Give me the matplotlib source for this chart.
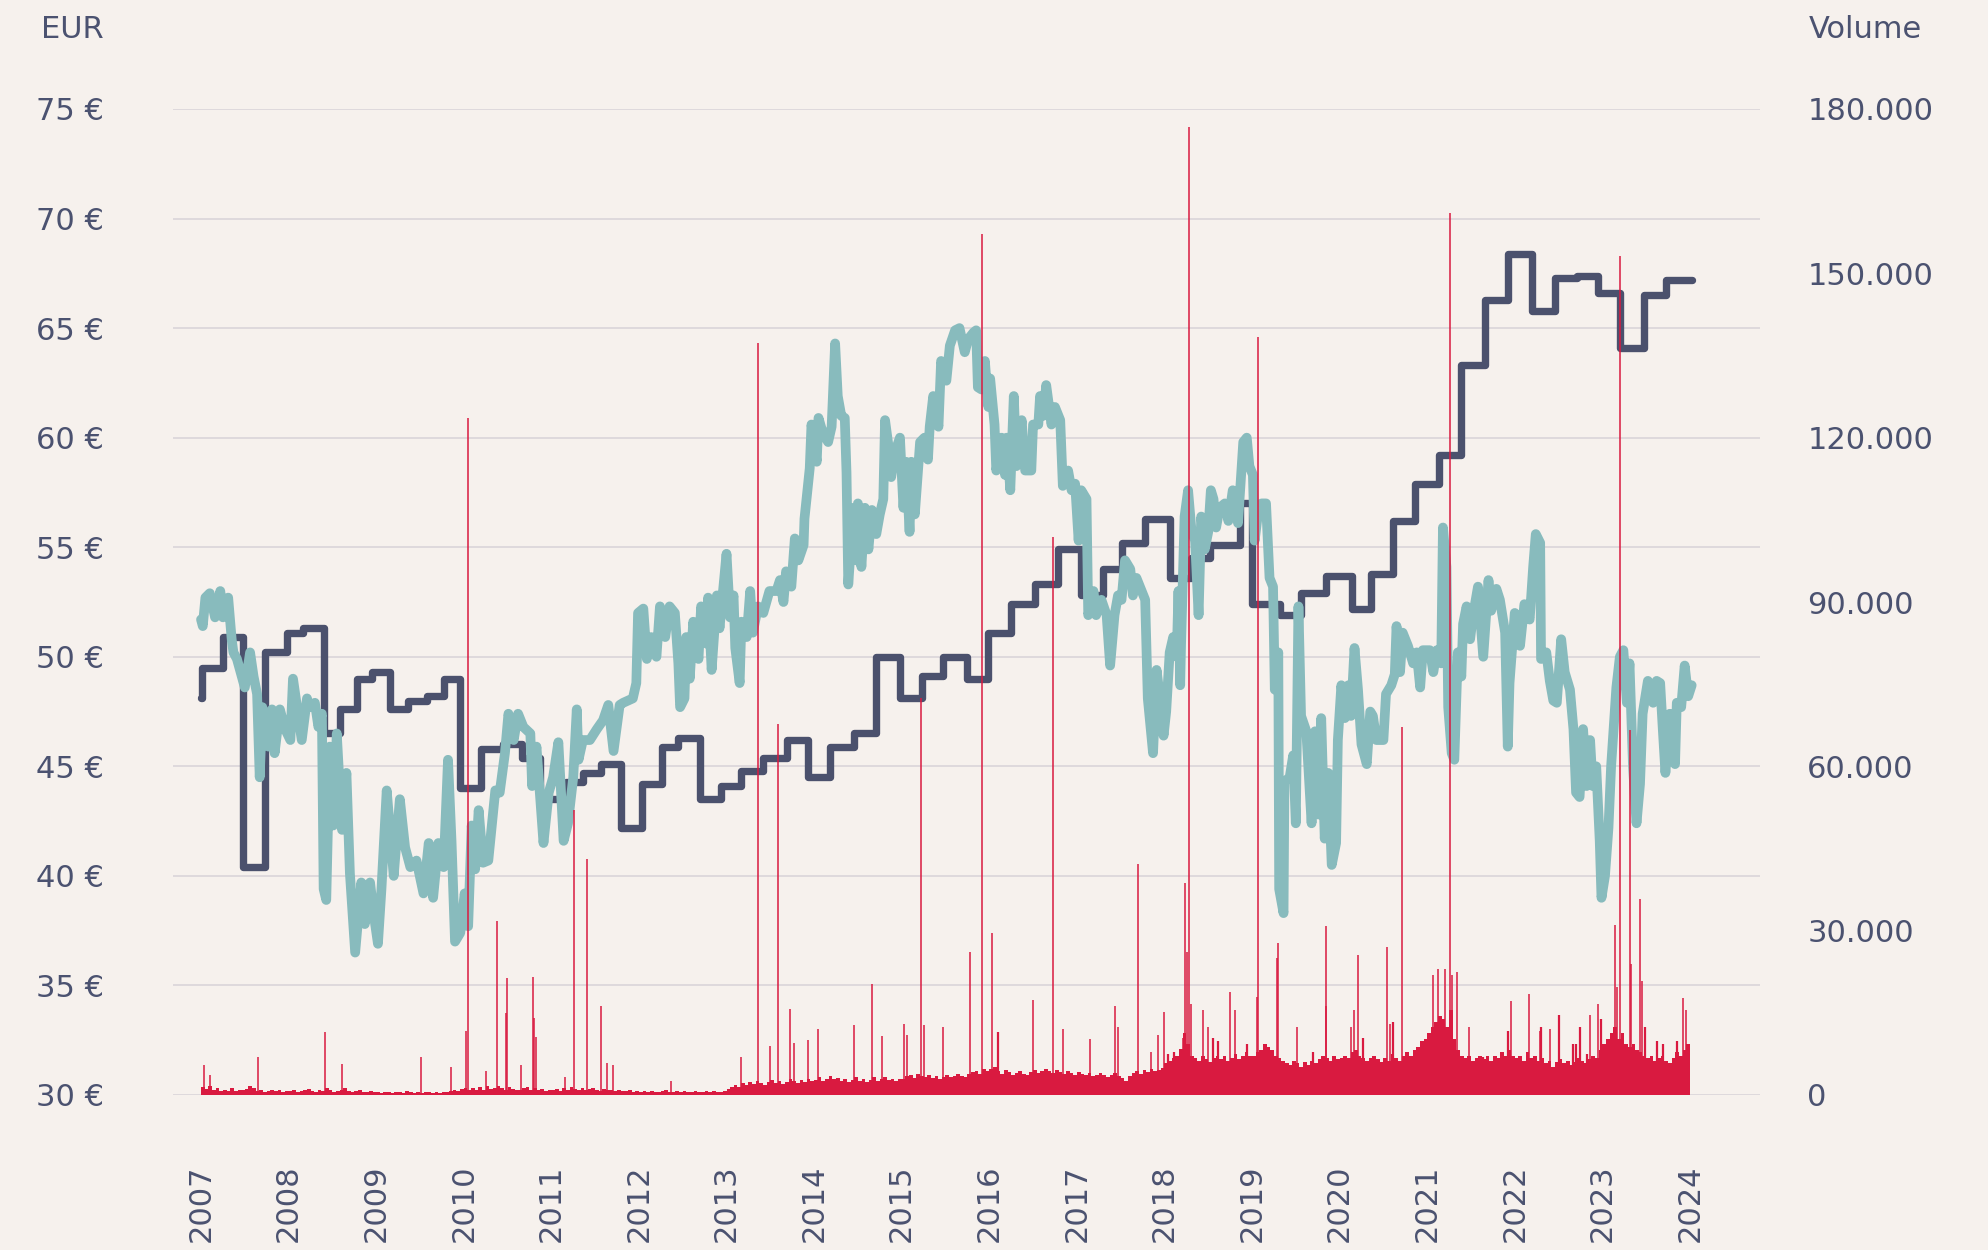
import numpy as np
import matplotlib.pyplot as plt

# Share price (EUR), decimal year -> close
price_t = [
    2007.00, 2007.02, 2007.05, 2007.10, 2007.16, 2007.22, 2007.25, 2007.31, 2007.35, 2007.37,
    2007.41, 2007.50, 2007.56, 2007.60, 2007.64, 2007.67, 2007.70, 2007.77, 2007.81, 2007.84,
    2007.90, 2007.96, 2008.02, 2008.05, 2008.11, 2008.15, 2008.21, 2008.24, 2008.30, 2008.34,
    2008.38, 2008.40, 2008.43, 2008.47, 2008.51, 2008.55, 2008.61, 2008.66, 2008.70, 2008.76,
    2008.80, 2008.83, 2008.87, 2008.93, 2008.97, 2009.02, 2009.06, 2009.12, 2009.16, 2009.20,
    2009.27, 2009.33, 2009.39, 2009.46, 2009.54, 2009.60, 2009.65, 2009.71, 2009.77, 2009.82,
    2009.86, 2009.90, 2009.96, 2010.01, 2010.05, 2010.09, 2010.13, 2010.17, 2010.22, 2010.28,
    2010.32, 2010.36, 2010.41, 2010.47, 2010.51, 2010.57, 2010.62, 2010.68, 2010.76, 2010.78,
    2010.83, 2010.91, 2010.97, 2011.02, 2011.08, 2011.14, 2011.19, 2011.25, 2011.29, 2011.31,
    2011.36, 2011.44, 2011.52, 2011.59, 2011.65, 2011.71, 2011.78, 2011.82, 2011.93, 2011.97,
    2011.99, 2012.05, 2012.09, 2012.14, 2012.20, 2012.24, 2012.30, 2012.35, 2012.41, 2012.45,
    2012.47, 2012.52, 2012.54, 2012.58, 2012.62, 2012.68, 2012.71, 2012.77, 2012.79, 2012.83,
    2012.89, 2012.92, 2012.96, 2013.00, 2013.04, 2013.08, 2013.10, 2013.15, 2013.17, 2013.23,
    2013.27, 2013.30, 2013.36, 2013.42, 2013.49, 2013.57, 2013.61, 2013.65, 2013.68, 2013.74,
    2013.78, 2013.82, 2013.88, 2013.89, 2013.95, 2013.97, 2014.03, 2014.05, 2014.10, 2014.16,
    2014.20, 2014.24, 2014.27, 2014.31, 2014.35, 2014.37, 2014.39, 2014.45, 2014.48, 2014.50,
    2014.54, 2014.58, 2014.62, 2014.66, 2014.71, 2014.75, 2014.79, 2014.81, 2014.85, 2014.88,
    2014.92, 2014.98, 2015.02, 2015.05, 2015.09, 2015.11, 2015.15, 2015.21, 2015.26, 2015.30,
    2015.32, 2015.36, 2015.42, 2015.45, 2015.51, 2015.55, 2015.61, 2015.66, 2015.72, 2015.76,
    2015.82, 2015.85, 2015.87, 2015.91, 2015.95, 2015.99, 2016.01, 2016.06, 2016.08, 2016.14,
    2016.18, 2016.20, 2016.24, 2016.28, 2016.31, 2016.37, 2016.41, 2016.48, 2016.50, 2016.56,
    2016.58, 2016.62, 2016.65, 2016.71, 2016.75, 2016.81, 2016.84, 2016.90, 2016.94, 2016.98,
    2017.02, 2017.05, 2017.11, 2017.13, 2017.19, 2017.22, 2017.28, 2017.34, 2017.38, 2017.43,
    2017.47, 2017.51, 2017.55, 2017.61, 2017.64, 2017.68, 2017.74, 2017.78, 2017.81, 2017.87,
    2017.91, 2017.95, 2017.99, 2018.02, 2018.06, 2018.10, 2018.14, 2018.16, 2018.18, 2018.19,
    2018.23, 2018.27, 2018.31, 2018.35, 2018.39, 2018.42, 2018.46, 2018.50, 2018.53, 2018.56,
    2018.59, 2018.63, 2018.69, 2018.73, 2018.78, 2018.84, 2018.90, 2018.94, 2018.97, 2019.01,
    2019.03, 2019.07, 2019.11, 2019.16, 2019.20, 2019.24, 2019.26, 2019.30, 2019.31, 2019.36,
    2019.37, 2019.43, 2019.47, 2019.50, 2019.53, 2019.56, 2019.62, 2019.68, 2019.72, 2019.76,
    2019.79, 2019.83, 2019.87, 2019.91, 2019.96, 2019.98, 2020.02, 2020.06, 2020.10, 2020.13,
    2020.17, 2020.21, 2020.25, 2020.31, 2020.35, 2020.38, 2020.42, 2020.50, 2020.53, 2020.59,
    2020.63, 2020.65, 2020.69, 2020.72, 2020.78, 2020.84, 2020.88, 2020.92, 2020.95, 2021.03,
    2021.07, 2021.11, 2021.16, 2021.18, 2021.22, 2021.24, 2021.28, 2021.31, 2021.35, 2021.39,
    2021.41, 2021.45, 2021.49, 2021.52, 2021.58, 2021.64, 2021.70, 2021.73, 2021.79, 2021.83,
    2021.89, 2021.92, 2021.94, 2022.00, 2022.06, 2022.11, 2022.17, 2022.21, 2022.24, 2022.29,
    2022.30, 2022.36, 2022.40, 2022.44, 2022.48, 2022.53, 2022.57, 2022.63, 2022.67, 2022.70,
    2022.74, 2022.78, 2022.82, 2022.86, 2022.89, 2022.93, 2022.97, 2022.99, 2023.03, 2023.07,
    2023.10, 2023.12, 2023.16, 2023.20, 2023.24, 2023.28, 2023.31, 2023.35, 2023.39, 2023.43,
    2023.46, 2023.52, 2023.58, 2023.62, 2023.66, 2023.69, 2023.72, 2023.77, 2023.83, 2023.85,
    2023.90, 2023.94, 2023.98, 2024.02,
]
price_v = [
    51.7, 51.4, 52.7, 52.9, 51.8, 53.0, 51.8, 52.7, 50.8, 50.2,
    49.9, 48.6, 50.2, 49.1, 48.3, 44.5, 47.7, 45.9, 47.6, 45.6,
    47.6, 46.7, 46.2, 49.0, 47.3, 46.2, 48.1, 47.7, 47.9, 46.8,
    47.4, 39.4, 38.9, 45.9, 42.3, 46.5, 42.1, 44.7, 40.1, 36.5,
    38.3, 39.7, 37.8, 39.7, 38.3, 36.9, 39.4, 43.9, 42.0, 40.0,
    43.5, 41.3, 40.4, 40.7, 39.2, 41.5, 39.0, 41.5, 40.4, 45.3,
    41.6, 37.0, 37.4, 39.2, 37.7, 42.3, 40.3, 43.0, 40.6, 40.7,
    42.3, 43.9, 43.8, 45.6, 47.4, 46.2, 47.4, 46.8, 46.5, 44.1,
    45.9, 41.5, 43.8, 44.5, 46.1, 41.6, 42.4, 44.5, 47.6, 45.3,
    46.2, 46.2, 46.7, 47.1, 47.8, 45.7, 47.8, 47.9, 48.1, 48.8,
    52.0, 52.2, 49.9, 50.9, 50.0, 52.3, 50.9, 52.3, 52.0, 49.7,
    47.7, 48.1, 50.9, 49.0, 51.6, 49.9, 52.3, 50.6, 52.7, 49.4,
    52.8, 51.3, 53.0, 54.7, 51.8, 52.8, 50.4, 48.8, 51.6, 50.9,
    53.0, 51.1, 52.3, 52.0, 53.0, 53.0, 53.5, 52.5, 53.9, 53.2,
    55.4, 54.4, 55.1, 56.3, 58.6, 60.6, 58.9, 60.9, 60.2, 59.8,
    60.5, 64.3, 61.9, 61.0, 60.9, 58.4, 53.3, 56.8, 54.4, 57.0,
    54.1, 56.8, 54.9, 56.7, 55.6, 56.5, 57.2, 60.8, 59.6, 58.2,
    59.3, 60.0, 56.8, 58.9, 55.7, 58.9, 56.5, 59.8, 60.0, 59.0,
    60.5, 61.9, 60.5, 63.5, 62.6, 64.2, 64.9, 65.0, 63.9, 64.5,
    64.8, 64.9, 62.3, 62.2, 63.5, 61.4, 62.7, 60.6, 58.5, 60.0,
    58.3, 60.0, 57.6, 61.9, 58.7, 60.8, 58.5, 58.5, 60.6, 60.6,
    61.9, 61.0, 62.4, 60.6, 61.4, 60.8, 57.8, 58.5, 57.6, 57.9,
    55.3, 57.6, 57.2, 51.9, 53.0, 51.9, 52.6, 51.9, 49.6, 51.9,
    52.8, 52.6, 54.4, 54.0, 52.8, 53.6, 53.0, 52.6, 48.1, 45.6,
    49.4, 48.1, 46.4, 47.5, 50.2, 50.9, 50.0, 53.0, 48.7, 50.6,
    56.4, 57.6, 55.7, 55.3, 51.9, 56.4, 54.9, 55.7, 57.6, 57.2,
    55.9, 56.8, 57.0, 56.2, 57.6, 56.1, 59.8, 60.0, 58.7, 58.3,
    55.3, 56.6, 57.0, 57.0, 53.6, 53.2, 48.5, 50.2, 39.4, 38.3,
    44.3, 44.5, 45.5, 42.4, 52.3, 47.3, 46.6, 42.4, 46.6, 42.8,
    47.2, 41.7, 44.7, 40.5, 41.5, 46.2, 48.7, 47.2, 48.7, 47.3,
    50.4, 48.5, 46.0, 45.1, 47.5, 47.3, 46.2, 46.2, 48.3, 48.7,
    49.2, 51.4, 49.3, 51.1, 50.5, 49.7, 50.2, 48.6, 50.3, 50.3,
    49.3, 50.3, 49.7, 55.9, 54.1, 47.7, 45.6, 45.3, 50.2, 49.1,
    51.5, 52.3, 50.8, 51.8, 53.2, 50.0, 53.5, 52.1, 53.1, 52.6,
    51.1, 45.9, 48.8, 52.0, 50.5, 52.4, 51.7, 54.1, 55.6, 55.2,
    49.9, 50.2, 48.9, 48.0, 47.9, 50.8, 49.3, 48.5, 46.7, 43.8,
    43.6, 46.7, 44.1, 46.2, 44.1, 45.0, 41.6, 39.0, 40.0, 42.2,
    45.0, 46.2, 48.6, 50.0, 50.3, 47.9, 49.7, 45.0, 42.4, 44.2,
    47.4, 48.9, 47.9, 48.9, 48.8, 46.7, 44.7, 47.4, 45.1, 47.9,
    47.7, 49.6, 48.2, 48.7,
]

# Fair value: start of each level (decimal year) and level in EUR
fv_t = [
    2007.00, 2007.01, 2007.255, 2007.48, 2007.73, 2007.98, 2008.17, 2008.40, 2008.59, 2008.78,
    2008.95, 2009.16, 2009.36, 2009.58, 2009.77, 2009.96, 2010.20, 2010.45, 2010.66, 2010.87,
    2011.17, 2011.36, 2011.57, 2011.80, 2012.03, 2012.26, 2012.45, 2012.70, 2012.94, 2013.17,
    2013.42, 2013.69, 2013.93, 2014.18, 2014.45, 2014.71, 2014.98, 2015.23, 2015.47, 2015.74,
    2015.99, 2016.25, 2016.52, 2016.79, 2017.05, 2017.30, 2017.51, 2017.78, 2018.06, 2018.30,
    2018.52, 2018.86, 2019.00, 2019.32, 2019.56, 2019.85, 2020.14, 2020.36, 2020.61, 2020.86,
    2021.14, 2021.39, 2021.66, 2021.92, 2022.20, 2022.46, 2022.71, 2022.95, 2023.20, 2023.48,
    2023.73,
]
fv_v = [
    48.1, 49.5, 50.9, 40.4, 50.2, 51.1, 51.3, 46.5, 47.6, 49.0,
    49.3, 47.6, 48.0, 48.2, 49.0, 44.0, 45.8, 46.0, 45.4, 43.5,
    44.3, 44.7, 45.1, 42.2, 44.2, 45.9, 46.3, 43.5, 44.1, 44.8,
    45.4, 46.2, 44.5, 45.9, 46.5, 50.0, 48.1, 49.1, 50.0, 49.0,
    51.1, 52.4, 53.3, 54.9, 52.8, 54.0, 55.2, 56.3, 53.6, 54.5,
    55.1, 57.0, 52.4, 51.9, 52.9, 53.7, 52.2, 53.8, 56.2, 57.9,
    59.2, 63.3, 66.3, 68.4, 65.8, 67.3, 67.4, 66.6, 64.1, 66.5,
    67.2,
]
fv_end = 2024.02

# Trading volume, typical level per half month, Jan 2007 - Dec 2023
vol_body = [
    1400, 1100, 1600, 900, 1200, 800, 1000, 700, 1200, 800, 900, 1000, 1100, 1600, 1300, 700, 900, 600, 800, 1000, 700, 900, 600, 800,
    700, 1000, 600, 800, 900, 1100, 700, 600, 1000, 800, 1300, 900, 600, 700, 1000, 1200, 800, 600, 700, 900, 600, 500, 700, 600,
    500, 400, 600, 500, 400, 600, 500, 400, 700, 500, 400, 500, 400, 500, 600, 400, 500, 400, 600, 500, 700, 900, 800, 1100,
    1300, 1000, 1200, 900, 1400, 1000, 1600, 1100, 1300, 1700, 1200, 1000, 1400, 1100, 1000, 900, 1200, 1500, 1000, 1300, 1000, 1100, 800, 1000,
    900, 1100, 800, 1200, 1000, 1400, 1100, 1000, 1300, 900, 1100, 1200, 1000, 800, 1100, 900, 1000, 700, 900, 800, 700, 900, 600, 800,
    600, 700, 500, 800, 600, 500, 700, 900, 600, 500, 700, 600, 800, 500, 600, 700, 500, 600, 800, 600, 700, 500, 600, 800,
    1100, 1400, 1800, 1500, 2200, 1800, 2400, 2000, 2600, 2100, 1900, 2400, 2800, 2200, 2600, 2000, 2400, 3000, 2600, 2200, 2800, 2400, 3000, 2600,
    2800, 3300, 2600, 3000, 3500, 2900, 3100, 2600, 3000, 2400, 2800, 3200, 2600, 3000, 2400, 2800, 3200, 2600, 3000, 3300, 2800, 3000, 2600, 3000,
    3000, 3400, 3700, 3100, 3900, 3500, 3300, 3700, 3100, 3500, 3000, 3300, 3700, 3200, 3500, 3900, 3500, 3200, 3800, 4200, 4400, 3900, 4800, 4400,
    4800, 5200, 4400, 3900, 4500, 4200, 3700, 4100, 4400, 3900, 3600, 4200, 4500, 4000, 4400, 4800, 4400, 4000, 4600, 4200, 3800, 4400, 4000, 3700,
    4200, 3800, 3600, 4000, 3500, 3700, 4100, 3600, 3300, 3700, 4000, 3500, 3100, 2600, 3500, 4000, 4400, 3900, 4500, 4200, 4800, 4300, 4600, 5000,
    5800, 6200, 6700, 7200, 8400, 11400, 9400, 7200, 6700, 6200, 7100, 6500, 6000, 6700, 7200, 6500, 7100, 6200, 6700, 7400, 6600, 7100, 7800, 7200,
    7200, 7800, 8300, 9400, 8800, 8300, 7200, 6700, 6200, 5800, 5400, 6200, 5800, 5200, 6000, 5400, 6200, 5800, 6500, 7200, 6700, 6200, 7100, 6500,
    6700, 7200, 6700, 7800, 8300, 7200, 6700, 6200, 6700, 7200, 6500, 6000, 6700, 6200, 7400, 6800, 6200, 7100, 7800, 7200, 8300, 8800, 9800, 10300,
    11400, 12400, 13400, 14400, 13900, 12400, 15500, 10300, 8300, 7200, 6700, 7200, 6200, 6700, 7200, 6500, 7100, 6200, 7200, 6700, 7800, 7200, 8300, 7200,
    6700, 7200, 6200, 7800, 6700, 7200, 6200, 6700, 5800, 6200, 5200, 6000, 6500, 5800, 6200, 5400, 6000, 6700, 6200, 5800, 6500, 7200, 6700, 8300,
    9400, 10300, 11400, 12400, 10300, 11400, 9400, 8800, 9400, 8300, 7800, 7200, 6700, 7200, 6200, 6700, 7200, 6200, 5800, 6700, 7800, 7200, 8300, 9400,
]

# Single trading days with unusually high volume
spike_t = [
    2007.03, 2007.10, 2007.65, 2008.41, 2008.61, 2009.51, 2009.85, 2010.03, 2010.05, 2010.25,
    2010.38, 2010.48, 2010.49, 2010.65, 2010.79, 2010.80, 2010.83, 2011.16, 2011.26, 2011.41,
    2011.57, 2011.64, 2011.70, 2012.37, 2013.17, 2013.36, 2013.50, 2013.59, 2013.73, 2013.77,
    2013.93, 2014.05, 2014.45, 2014.66, 2014.77, 2015.03, 2015.06, 2015.22, 2015.25, 2015.47,
    2015.78, 2015.92, 2016.03, 2016.50, 2016.73, 2016.84, 2017.15, 2017.43, 2017.47, 2017.70,
    2017.85, 2017.93, 2018.00, 2018.21, 2018.23, 2018.26, 2018.28, 2018.30, 2018.44, 2018.50,
    2018.75, 2018.80, 2019.06, 2019.07, 2019.28, 2019.30, 2019.51, 2019.84, 2019.85, 2020.13,
    2020.17, 2020.21, 2020.54, 2020.58, 2020.71, 2021.07, 2021.12, 2021.20, 2021.26, 2021.28,
    2021.34, 2021.48, 2021.96, 2022.16, 2022.29, 2022.40, 2022.86, 2022.95, 2023.14, 2023.17,
    2023.20, 2023.31, 2023.33, 2023.43, 2023.45, 2023.92, 2023.95,
]
spike_v = [
    5500, 3700, 6900, 11500, 5700, 6900, 5200, 11700, 123500, 4400,
    31700, 15000, 21400, 5500, 21500, 14000, 10600, 3200, 52000, 43000,
    16200, 5800, 5500, 2600, 6900, 137300, 9000, 67800, 15700, 9500,
    10000, 12100, 12700, 20300, 10800, 13000, 11000, 72500, 12700, 12400,
    26100, 157100, 29600, 17300, 101900, 12100, 10300, 16200, 12500, 42100,
    7800, 10900, 15100, 10400, 38700, 26100, 176800, 16700, 15600, 12500,
    18800, 15600, 17900, 138300, 25000, 27700, 12500, 16200, 30800, 12500,
    15600, 25600, 27100, 12900, 67100, 21900, 23000, 23000, 161100, 21900,
    22400, 12500, 17200, 18500, 11700, 12100, 14600, 16700, 31100, 19800,
    153200, 66600, 24000, 35800, 20900, 17700, 15600,
]

# Smaller busy days on top of the regular volume
busy_t = [
    2016.10, 2018.04, 2018.11, 2018.56, 2018.61, 2018.94, 2019.70, 2020.27, 2020.61, 2021.64,
    2021.92, 2022.30, 2022.51, 2022.67, 2022.70, 2022.74, 2022.82, 2022.99, 2023.49, 2023.62,
    2023.69, 2023.85,
]
busy_v = [
    11500, 7400, 7800, 10400, 9900, 9400, 7800, 10400, 13400, 7000,
    11700, 12500, 14600, 9400, 9400, 12500, 7400, 13800, 12500, 9900,
    9400, 9900,
]

years = list(range(2007, 2025))
eur_ticks = list(range(30, 80, 5))
vol_ticks = list(range(0, 180001, 30000))

BG = "#f6f1ed"
TXT = "#4b5270"
TEAL = "#88bbbd"
NAVY = "#4b516d"
RED = "#d91a40"

fig = plt.figure(figsize=(19.88, 12.5), dpi=100, facecolor=BG)
ax = fig.add_axes([173 / 1988, 1 - 1095 / 1250, 1587 / 1988, 986 / 1250])
ax.set_facecolor(BG)

# price axis
ax.set_xlim(2006.68, 2024.80)
ax.set_ylim(30, 75)
ax.set_yticks(eur_ticks)
ax.set_yticklabels([f"{v} €" for v in eur_ticks])
ax.set_xticks(years)
ax.set_xticklabels([str(y) for y in years], rotation=90)
ax.grid(axis="y", color="#dcd7db", linewidth=1.3)
ax.set_axisbelow(True)
ax.tick_params(axis="y", length=0, pad=50, labelsize=22, labelcolor=TXT)
ax.tick_params(axis="x", length=0, pad=50, labelsize=22, labelcolor=TXT)
for s in ax.spines.values():
    s.set_visible(False)

ax.step(fv_t + [fv_end], fv_v + [fv_v[-1]], where="post", color=NAVY, linewidth=5.3,
        solid_joinstyle="round", solid_capstyle="round", zorder=3)
ax.plot(price_t, price_v, color=TEAL, linewidth=7,
        solid_joinstyle="round", solid_capstyle="round", zorder=4)

# volume axis on top
ax2 = ax.twinx()
ax2.set_ylim(0, 180000)
ax2.set_yticks(vol_ticks)
ax2.set_yticklabels([f"{v:,}".replace(",", ".") for v in vol_ticks])
ax2.tick_params(axis="y", length=0, pad=34, labelsize=22, labelcolor=TXT)
for s in ax2.spines.values():
    s.set_visible(False)

body_t = 2007 + np.arange(len(vol_body)) / 24
ax2.bar(body_t, vol_body, width=1 / 24, align="edge", color=RED, linewidth=0)
ax2.vlines(busy_t, 0, busy_v, color=RED, linewidth=1.6)
ax2.vlines(spike_t, 0, spike_v, color=RED, linewidth=1.1)

fig.text(104 / 1988, 1 - 29 / 1250, "EUR", ha="right", va="center", fontsize=22, color=TXT)
fig.text(1809 / 1988, 1 - 29 / 1250, "Volume", ha="left", va="center", fontsize=22, color=TXT)

fig.savefig("out.png", dpi=100, facecolor=BG)
